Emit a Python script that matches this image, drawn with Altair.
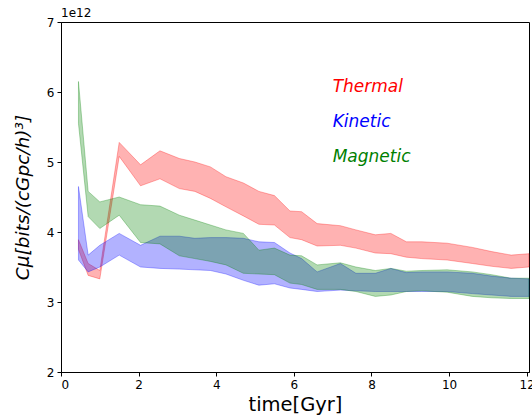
import altair as alt
import pandas as pd

# time in Gyr
time = [0.45, 0.7, 1.0, 1.5, 2.05, 2.55, 3.05, 3.45, 3.85, 4.25, 4.7, 5.1, 5.5, 5.9,
        6.2, 6.6, 7.2, 7.6, 8.1, 8.5, 8.9, 9.3, 9.95, 10.6, 11.1, 11.6, 12.06]

# values in units of 1e12
thermal_hi = [3.89, 3.55, 3.45, 5.28, 4.96, 5.16, 5.05, 5.00, 4.93, 4.79, 4.70, 4.58, 4.52, 4.30,
              4.29, 4.12, 4.09, 4.03, 3.96, 3.98, 3.86, 3.86, 3.84, 3.78, 3.72, 3.67, 3.69]
thermal_lo = [3.75, 3.38, 3.33, 5.08, 4.66, 4.76, 4.62, 4.58, 4.48, 4.36, 4.23, 4.11, 4.10, 3.92,
              3.89, 3.80, 3.81, 3.77, 3.70, 3.69, 3.64, 3.62, 3.60, 3.55, 3.51, 3.48, 3.50]
kinetic_hi = [4.65, 3.67, 3.81, 3.98, 3.81, 3.94, 3.94, 3.91, 3.92, 3.92, 3.91, 3.86, 3.85, 3.70,
              3.62, 3.43, 3.55, 3.41, 3.41, 3.48, 3.42, 3.43, 3.43, 3.41, 3.37, 3.34, 3.33]
kinetic_lo = [3.60, 3.43, 3.50, 3.67, 3.50, 3.48, 3.47, 3.46, 3.45, 3.40, 3.31, 3.24, 3.26, 3.20,
              3.18, 3.15, 3.17, 3.16, 3.15, 3.15, 3.15, 3.15, 3.15, 3.12, 3.10, 3.08, 3.08]
magnetic_hi = [6.15, 4.58, 4.43, 4.50, 4.39, 4.37, 4.24, 4.17, 4.10, 4.03, 3.98, 3.74, 3.77, 3.67,
               3.66, 3.53, 3.56, 3.50, 3.45, 3.48, 3.44, 3.45, 3.46, 3.43, 3.39, 3.34, 3.34]
magnetic_lo = [5.55, 4.22, 4.05, 4.24, 3.85, 3.83, 3.66, 3.62, 3.58, 3.53, 3.41, 3.40, 3.39, 3.27,
               3.25, 3.18, 3.18, 3.15, 3.08, 3.10, 3.15, 3.16, 3.14, 3.08, 3.06, 3.05, 3.05]

series_names = ["Thermal", "Kinetic", "Magnetic"]
series_colors = ["#ff0000", "#0000ff", "#008000"]
label_x = [7, 7, 7]
label_y = [6.0, 5.5, 5.0]

bands = {
    "Thermal": (thermal_lo, thermal_hi),
    "Kinetic": (kinetic_lo, kinetic_hi),
    "Magnetic": (magnetic_lo, magnetic_hi),
}

x_scale = alt.Scale(domain=[0, 12.06], nice=False, zero=False)
y_scale = alt.Scale(domain=[2, 7], nice=False, zero=False)

x_axis = alt.Axis(title="time[Gyr]", values=[0, 2, 4, 6, 8, 10, 12], format="d",
                  grid=False, titlePadding=5, titleFontSize=19.5)
y_axis = alt.Axis(title="Cμ[bits/(cGpc/h)³]", values=[2, 3, 4, 5, 6, 7], format="d",
                  grid=False, titlePadding=14, titleFontStyle="italic", titleFontSize=18.5)

layers = []
for i, (name, color) in enumerate(zip(series_names, series_colors)):
    lo, hi = bands[name]
    df = pd.DataFrame({"time": time, "lo": lo, "hi": hi})
    layer = alt.Chart(df).mark_area(
        fill=color, fillOpacity=0.3, stroke=color, strokeOpacity=0.3, strokeWidth=1,
        interpolate="linear"
    ).encode(
        x=alt.X("time:Q", scale=x_scale, axis=x_axis),
        y=alt.Y("lo:Q", scale=y_scale, axis=y_axis),
        y2="hi:Q",
    )
    layers.append(layer)

labels_df = pd.DataFrame({"x": label_x, "y": label_y, "name": series_names})
labels = alt.Chart(labels_df).mark_text(
    align="left", baseline="alphabetic", fontSize=17, fontStyle="italic", font="DejaVu Sans"
).encode(
    x=alt.X("x:Q", scale=x_scale, axis=x_axis),
    y=alt.Y("y:Q", scale=y_scale, axis=y_axis),
    text="name:N",
    color=alt.Color("name:N", scale=alt.Scale(domain=series_names, range=series_colors), legend=None),
)

offset_text = alt.Chart(pd.DataFrame({"t": ["1e12"]})).mark_text(
    align="left", baseline="alphabetic", fontSize=12, font="DejaVu Sans", color="black"
).encode(x=alt.value(0), y=alt.value(-5), text="t:N")

chart = alt.layer(*layers, labels, offset_text).properties(
    width=468, height=350,
    autosize=alt.AutoSizeParams(type="none"),
    padding={"left": 61, "top": 22, "right": 3, "bottom": 46},
).configure(font="DejaVu Sans").configure_view(
    stroke="black", strokeWidth=1
).configure_axis(
    domainColor="black", tickColor="black", labelColor="black", titleColor="black",
    tickSize=4, labelFontSize=12, titleFontWeight="normal",
    labelPadding=3, domainWidth=1, tickWidth=1, labelFont="DejaVu Sans", titleFont="DejaVu Sans"
)

chart.save("out.html", embed_options={"renderer": "svg", "actions": False})
